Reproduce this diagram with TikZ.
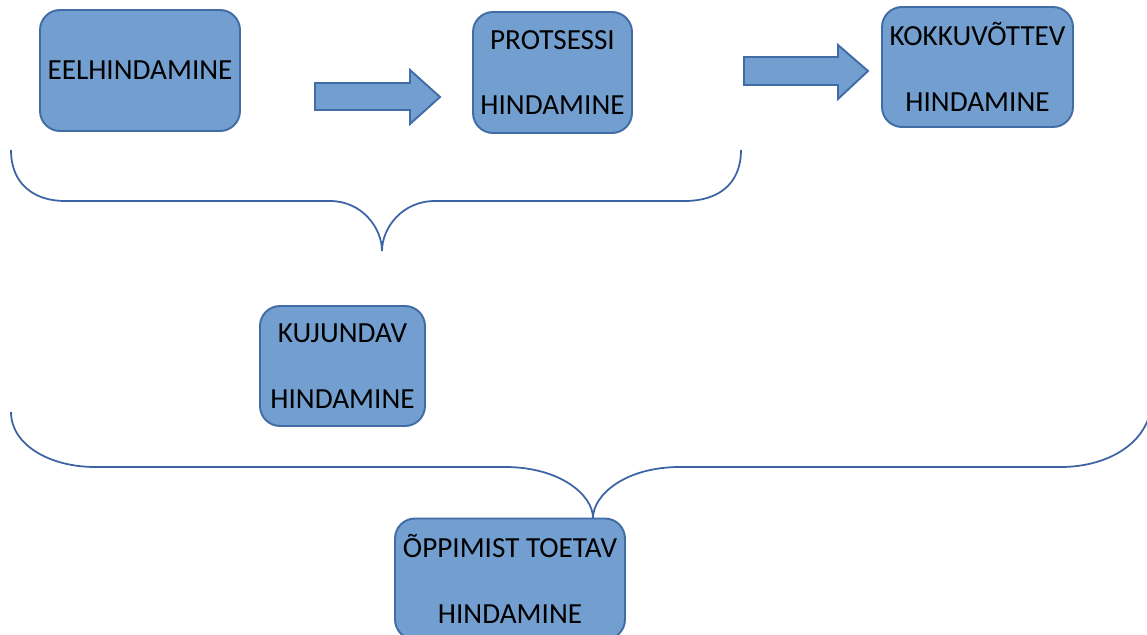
\documentclass[tikz,border=0pt]{standalone}
\usepackage{fontspec}
\setmainfont{Carlito}
\usetikzlibrary{shapes,arrows,positioning}

\definecolor{boxfill}{RGB}{114,159,207}
\definecolor{boxline}{RGB}{65,108,165}
\definecolor{braceline}{RGB}{60,100,165}

\begin{document}
\begin{tikzpicture}[
        x=0.02cm, y=-0.02cm,
        stage/.style={rectangle, rounded corners=0.4cm, draw=boxline, line width=1.1pt, fill=boxfill, align=center, inner sep=0pt, font=\fontsize{16.6pt}{37.5pt}\selectfont},
        blockarrow/.style={draw=boxline, line width=1.1pt, fill=boxfill, line join=miter},
        bracket/.style={draw=braceline, line width=1pt}
    ]
        \useasboundingbox (0,0) rectangle (1147,635);
        \clip (0,0) rectangle (1147,635);

        % Top row
        \node[stage, minimum width=4cm, minimum height=2.42cm] (eel) at (140,70.5) {EELHINDAMINE};
        \node[stage, minimum width=3.18cm, minimum height=2.42cm] (protsess) at (552.5,72.5) {PROTSESSI\\HINDAMINE};
        \node[stage, minimum width=3.82cm, minimum height=2.4cm] (kokku) at (977.5,67) {KOKKUVÕTTEV\\HINDAMINE};

        % Middle and bottom
        \node[stage, minimum width=3.3cm, minimum height=2.4cm] (kujund) at (342.5,366) {KUJUNDAV\\HINDAMINE};
        \node[stage, minimum width=4.6cm, minimum height=2.42cm] (toetav) at (510,579) {ÕPPIMIST TOETAV\\HINDAMINE};

        % Block arrows
        \draw[blockarrow] (315,83) -- (410,83) -- (410,70) -- (440,97) -- (410,124) -- (410,110) -- (315,110) -- cycle;
        \draw[blockarrow] (744,57) -- (838,57) -- (838,45) -- (868,71) -- (838,99) -- (838,85) -- (744,85) -- cycle;

        % Grouping brackets
        \draw[bracket] (11,150) .. controls (11,185) and (35,201) .. (65,201) -- (330,201)
            .. controls (362,201) and (382,228) .. (382,251)
            .. controls (382,228) and (402,201) .. (435,201) -- (685,201)
            .. controls (717,201) and (741,185) .. (741,150);
        \draw[bracket] (11,412) .. controls (11,445) and (50,467) .. (95,467) -- (505,467)
            .. controls (560,467) and (593,495) .. (593,518)
            .. controls (593,495) and (625,467) .. (680,467) -- (1061,467)
            .. controls (1105,467) and (1150,445) .. (1152,400);
    \end{tikzpicture}
\end{document}
